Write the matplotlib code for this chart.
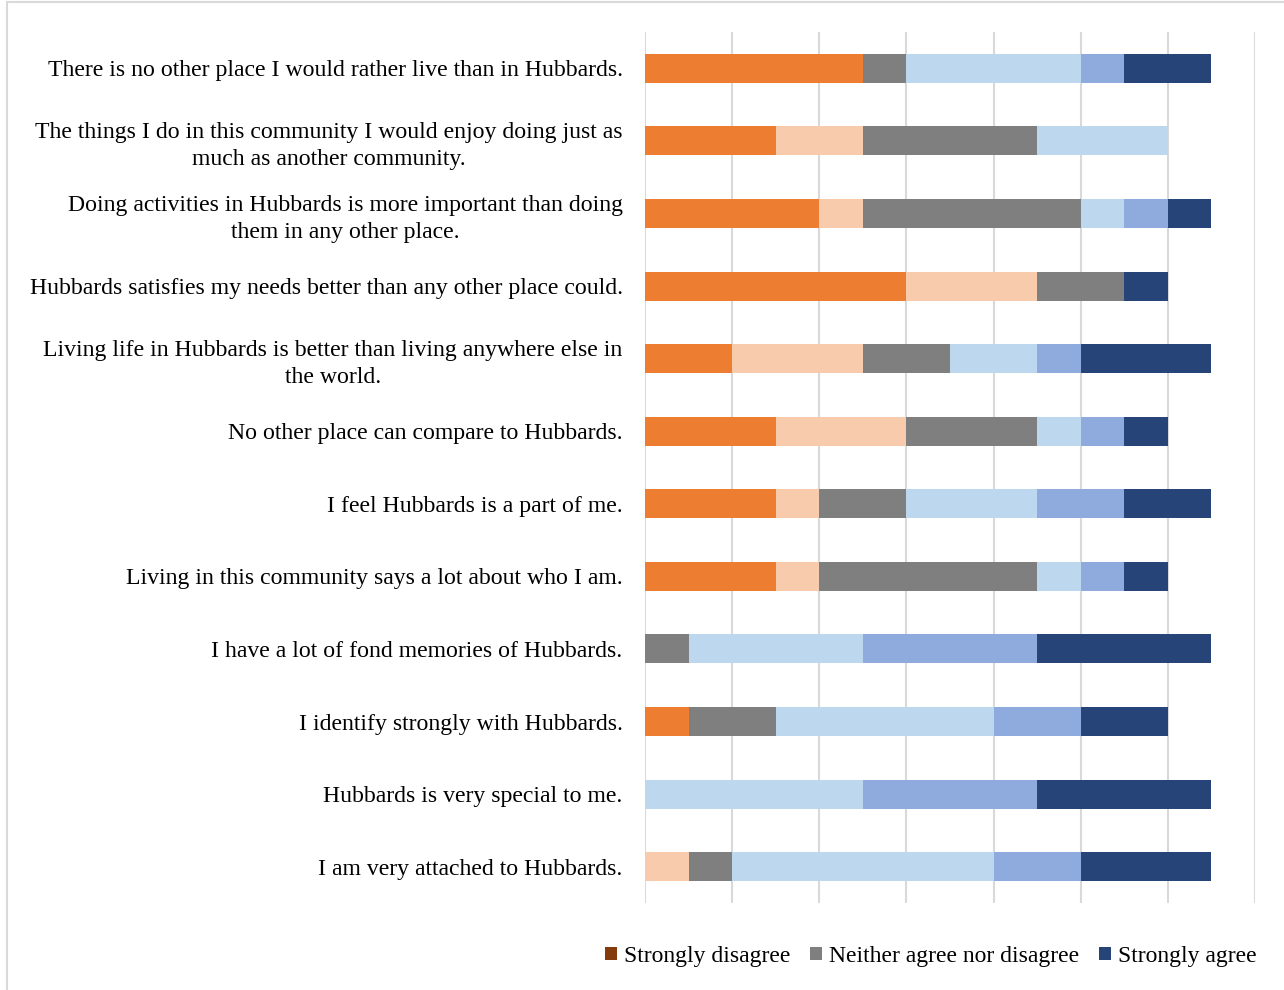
import numpy as np
import matplotlib.pyplot as plt
from matplotlib.patches import Patch, Rectangle

plt.rcParams['font.family'] = ['Liberation Serif', 'DejaVu Serif']

statements = [
    "There is no other place I would rather live than in Hubbards.",
    "The things I do in this community I would enjoy doing just as\nmuch as another community.",
    "Doing activities in Hubbards is more important than doing\nthem in any other place.",
    "Hubbards satisfies my needs better than any other place could.",
    "Living life in Hubbards is better than living anywhere else in\nthe world.",
    "No other place can compare to Hubbards.",
    "I feel Hubbards is a part of me.",
    "Living in this community says a lot about who I am.",
    "I have a lot of fond memories of Hubbards.",
    "I identify strongly with Hubbards.",
    "Hubbards is very special to me.",
    "I am very attached to Hubbards.",
]

# response counts per statement, from strongly disagree to strongly agree
strongly_disagree = [5, 3, 4, 6, 2, 3, 3, 3, 0, 1, 0, 0]
disagree          = [0, 2, 1, 3, 3, 3, 1, 1, 0, 0, 0, 1]
neither           = [1, 4, 5, 2, 2, 3, 2, 5, 1, 2, 0, 1]
agree             = [4, 3, 1, 0, 2, 1, 3, 1, 4, 5, 5, 6]
somewhat_agree    = [1, 0, 1, 0, 1, 1, 2, 1, 4, 2, 4, 2]
strongly_agree    = [2, 0, 1, 1, 3, 1, 2, 1, 4, 2, 4, 3]

series = [strongly_disagree, disagree, neither, agree, somewhat_agree, strongly_agree]
colors = ['#ED7D31', '#F8CBAD', '#7F7F7F', '#BDD7EE', '#8FAADC', '#264478']

fig = plt.figure(figsize=(12.84, 9.9), dpi=100)
ax = fig.add_axes([0.5023, 0.0879, 0.4751, 0.8798])

y = np.arange(len(statements))
left = np.zeros(len(statements))
for vals, c in zip(series, colors):
    vals = np.array(vals, dtype=float)
    ax.barh(y, vals, left=left, height=0.4, color=c, zorder=3)
    left += vals

ax.set_xlim(0, 14)
ax.set_ylim(len(statements) - 0.5, -0.5)
ax.set_xticks(np.arange(0, 15, 2))
ax.set_xticklabels([])
ax.set_yticks(y)
ax.set_yticklabels(statements, fontsize=17.1)
for lbl in ax.get_yticklabels():
    lbl.set_multialignment('center')
    lbl.set_linespacing(1.35)
ax.tick_params(axis='both', length=0)
ax.tick_params(axis='y', pad=16)
ax.grid(axis='x', color='#D9D9D9', linewidth=1.5, zorder=0)
for s in ax.spines.values():
    s.set_visible(False)

handles = [
    Patch(facecolor='#843C0C', label='Strongly disagree'),
    Patch(facecolor='#7F7F7F', label='Neither agree nor disagree'),
    Patch(facecolor='#264478', label='Strongly agree'),
]
fig.legend(handles=handles, loc='center right', bbox_to_anchor=(0.988, 0.034),
           ncol=3, frameon=False, fontsize=17.0, handlelength=0.5, handleheight=0.5,
           handletextpad=0.3, columnspacing=0.85, borderpad=0)

fig.patches.append(Rectangle((7 / 1284, -0.01), 1.1, 1.008, transform=fig.transFigure,
                             fill=False, edgecolor='#D9D9D9', linewidth=1.5))

fig.savefig('out.png', dpi=100)
